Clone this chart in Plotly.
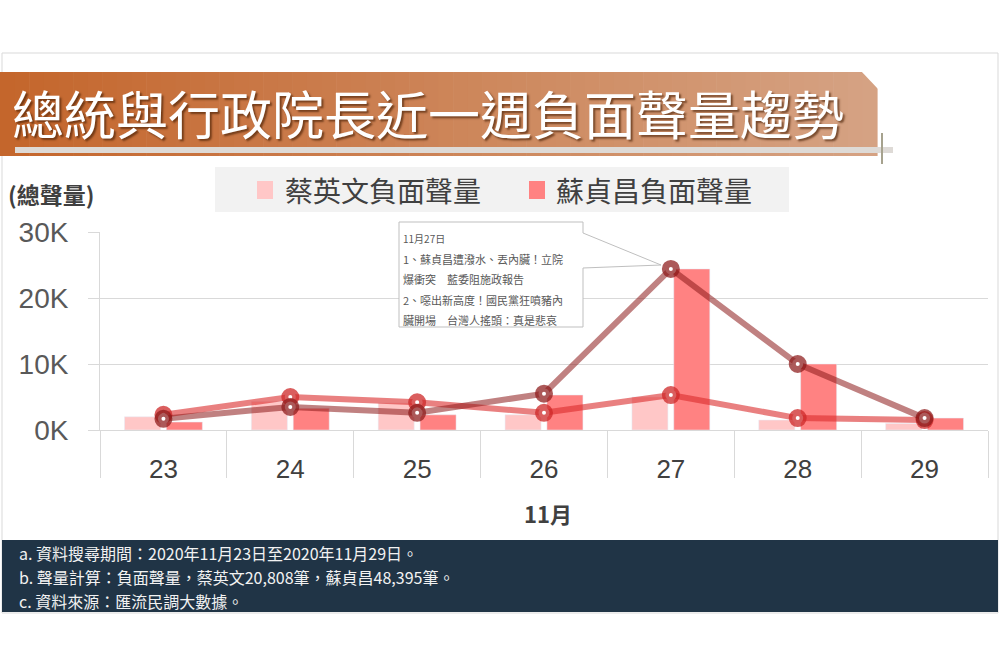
import plotly.graph_objects as go

# data (11/23 - 11/29, negative mentions)
days = ["23", "24", "25", "26", "27", "28", "29"]
cai_bar = [2000, 4300, 4100, 2300, 5000, 1500, 1000]
su_bar = [1200, 3300, 2300, 5300, 24400, 10000, 1800]
cai_line = [2300, 5000, 4200, 2600, 5300, 1800, 1500]
su_line = [1700, 3500, 2600, 5500, 24400, 10000, 1800]

y_ticks = [0, 10000, 20000, 30000]
y_ticktext = ["0K", "10K", "20K", "30K"]

title_text = "總統與行政院長近一週負面聲量趨勢"
legend_names = ["蔡英文負面聲量", "蘇貞昌負面聲量"]
note_lines = [
    "11月27日",
    "1、蘇貞昌遭潑水、丟內臟！立院",
    "爆衝突　藍委阻施政報告",
    "2、噁出新高度！國民黨狂噴豬內",
    "臟開場　台灣人搖頭：真是悲哀",
]
footer_lines = [
    "a. 資料搜尋期間：2020年11月23日至2020年11月29日。",
    "b. 聲量計算：負面聲量，蔡英文20,808筆，蘇貞昌48,395筆。",
    "c. 資料來源：匯流民調大數據。",
]

CAI_COLOR = "#ffc7c7"
SU_COLOR = "#ff8282"
CJK = "Noto Sans CJK TC"

W, H = 1000, 667
L, R, T, B = 100, 12, 232, 237


def fx(px):
    return (px - L) / (W - L - R)


def fy(py):
    return (H - B - py) / (H - T - B)


fig = go.Figure()
fig.add_trace(go.Bar(x=days, y=cai_bar, name=legend_names[0], marker_color=CAI_COLOR))
fig.add_trace(go.Bar(x=days, y=su_bar, name=legend_names[1], marker_color=SU_COLOR))
fig.add_trace(go.Scatter(
    x=days, y=cai_line, mode="lines+markers", cliponaxis=False,
    line=dict(color="rgba(218,43,43,0.6)", width=6),
    marker=dict(symbol="circle", size=11, color="white",
                line=dict(color="rgba(205,40,40,0.75)", width=7)),
))
fig.add_trace(go.Scatter(
    x=days, y=su_line, mode="lines+markers", cliponaxis=False,
    line=dict(color="rgba(140,25,25,0.55)", width=6),
    marker=dict(symbol="circle", size=11, color="white",
                line=dict(color="rgba(140,25,25,0.72)", width=7)),
))

shapes = []
# outer frame and footer band
shapes.append(dict(type="rect", xref="paper", yref="paper", x0=fx(2), x1=fx(998), y0=fy(53), y1=fy(613),
                   line=dict(color="#d9d9d9", width=1), fillcolor="rgba(0,0,0,0)", layer="below"))
shapes.append(dict(type="rect", xref="paper", yref="paper", x0=fx(2), x1=fx(998), y0=fy(540), y1=fy(612),
                   line=dict(width=0), fillcolor="#203446"))

# title banner, horizontal gradient done with thin strips
n = 60
c0, c1 = (196, 102, 44), (213, 162, 131)
for i in range(n):
    t = i / (n - 1)
    col = tuple(round(a + (b - a) * t) for a, b in zip(c0, c1))
    shapes.append(dict(type="rect", xref="paper", yref="paper",
                       x0=fx(877 * i / n), x1=fx(877 * (i + 1) / n + 0.6), y0=fy(72), y1=fy(156),
                       line=dict(width=0), fillcolor="rgb(%d,%d,%d)" % col))
# cut corner top right
shapes.append(dict(type="path", xref="paper", yref="paper",
                   path="M%f,%f L%f,%f L%f,%f Z" % (fx(861), fy(71), fx(879), fy(71), fx(879), fy(90)),
                   line=dict(width=0), fillcolor="white"))
shapes.append(dict(type="rect", xref="paper", yref="paper", x0=fx(15), x1=fx(893), y0=fy(147), y1=fy(153),
                   line=dict(width=0), fillcolor="#dedad6"))
shapes.append(dict(type="line", xref="paper", yref="paper", x0=fx(882), x1=fx(882), y0=fy(133), y1=fy(164),
                   line=dict(color="#a6a28e", width=2)))

# legend box
shapes.append(dict(type="rect", xref="paper", yref="paper", x0=fx(215), x1=fx(789), y0=fy(167), y1=fy(212),
                   line=dict(width=0), fillcolor="#f2f2f2"))
for x0, col in [(257, CAI_COLOR), (529, SU_COLOR)]:
    shapes.append(dict(type="rect", xref="paper", yref="paper", x0=fx(x0), x1=fx(x0 + 16), y0=fy(181), y1=fy(199),
                       line=dict(width=0), fillcolor=col))

# callout box pointing at the 11/27 peak
pts = [(399, 222), (583, 222), (583, 233), (661, 265), (583, 268), (583, 327), (399, 327)]
path = "M" + " L".join("%f,%f" % (fx(a), fy(b)) for a, b in pts) + " Z"
shapes.append(dict(type="path", xref="paper", yref="paper", path=path,
                   line=dict(color="#bfbfbf", width=1), fillcolor="white"))

annotations = []
annotations.append(dict(xref="paper", yref="paper", x=fx(10), y=fy(112), xanchor="left", yanchor="middle",
                        text=title_text, showarrow=False,
                        font=dict(family=CJK, size=52, color="white", shadow="2px 2px 2px rgba(70,30,5,0.65)")))
for x0, name in [(283, legend_names[0]), (554, legend_names[1])]:
    annotations.append(dict(xref="paper", yref="paper", x=fx(x0), y=fy(190), xanchor="left", yanchor="middle",
                            text=name, showarrow=False, font=dict(family=CJK, size=28, color="#404040")))
annotations.append(dict(xref="paper", yref="paper", x=fx(6), y=fy(194), xanchor="left", yanchor="middle",
                        text="<b>(總聲量)</b>", showarrow=False, font=dict(family=CJK, size=23, color="#404040")))
annotations.append(dict(xref="paper", yref="paper", x=fx(548), y=fy(513), xanchor="center", yanchor="middle",
                        text="<b>11月</b>", showarrow=False, font=dict(family=CJK, size=22, color="#404040")))
for i, line in enumerate(note_lines):
    annotations.append(dict(xref="paper", yref="paper", x=fx(401), y=fy(238 + 20.5 * i), xanchor="left",
                            yanchor="middle", text=line, showarrow=False,
                            font=dict(family=CJK, size=10 if i == 0 else 11, color="#595959")))
for i, line in enumerate(footer_lines):
    annotations.append(dict(xref="paper", yref="paper", x=fx(17), y=fy(553 + 24 * i), xanchor="left",
                            yanchor="middle", text=line, showarrow=False,
                            font=dict(family=CJK, size=16, color="#f2f2f2")))

fig.update_layout(
    width=W, height=H,
    margin=dict(l=L, r=R, t=T, b=B, pad=0),
    paper_bgcolor="white", plot_bgcolor="white",
    barmode="group", bargap=0.34, bargroupgap=0.14,
    showlegend=False,
    shapes=shapes, annotations=annotations,
    font=dict(family=CJK, color="#404040"),
)
fig.update_xaxes(
    type="category", tickson="boundaries", ticks="outside", ticklen=47, tickcolor="#d9d9d9", tickwidth=1,
    ticklabelstandoff=16, showgrid=False, showline=True, linecolor="#d9d9d9",
    tickfont=dict(family="Liberation Sans", size=26, color="#404040"),
)
fig.update_yaxes(
    range=[0, 30000], tickvals=y_ticks, ticktext=y_ticktext, showgrid=True, gridcolor="#d9d9d9",
    zeroline=False, ticks="outside", ticklen=11, tickcolor="#d9d9d9", ticklabelstandoff=14,
    showline=True, linecolor="#d9d9d9",
    tickfont=dict(family="Liberation Sans", size=28, color="#595959"),
)

# page body has a default margin; drop it so the figure sits at the window corner
fig.write_html("out.html", config={"displayModeBar": False},
               post_script="document.body.style.margin='0';")
